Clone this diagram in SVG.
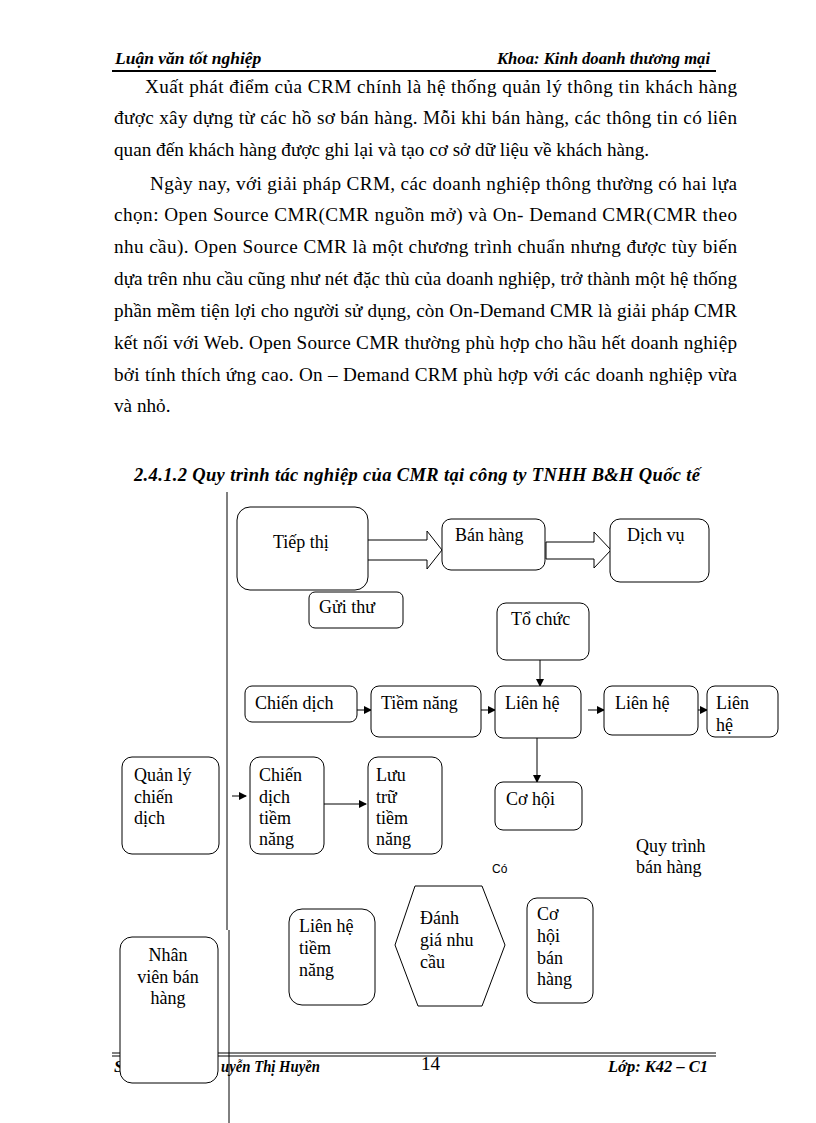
<svg xmlns="http://www.w3.org/2000/svg" width="816" height="1123" viewBox="0 0 816 1123">
<style>
.t{font-family:"Liberation Serif","Times New Roman",serif;font-size:19.2px;fill:#000}
.d{font-family:"Liberation Serif","Times New Roman",serif;font-size:18px;fill:#000}
.bi{font-family:"Liberation Serif","Times New Roman",serif;font-weight:bold;font-style:italic;fill:#000}
.box{fill:#fff;stroke:#000;stroke-width:1}
.ln{stroke:#000;stroke-width:1;fill:none}
</style>
<defs>
<marker id="ah" markerWidth="8" markerHeight="8" refX="7" refY="4" orient="auto" markerUnits="userSpaceOnUse">
<path d="M0,0 L8,4 L0,8 z" fill="#000"/>
</marker>
</defs>
<rect width="816" height="1123" fill="#fff"/>
<!-- header -->
<text class="bi" x="115" y="64" font-size="17.5">Luận văn tốt nghiệp</text>
<text class="bi" x="497" y="64" font-size="17.5" textLength="213" lengthAdjust="spacingAndGlyphs">Khoa: Kinh doanh thương mại</text>
<line x1="112" y1="71" x2="716" y2="71" stroke="#000" stroke-width="2"/>
<!-- body -->
<text class="t" x="145" y="93" textLength="592" lengthAdjust="spacing">Xuất phát điểm của CRM chính là hệ thống quản lý thông tin khách  hàng</text>
<text class="t" x="114" y="124" textLength="623" lengthAdjust="spacing">được xây dựng từ các hồ sơ bán hàng. Mỗi khi bán hàng, các thông tin có liên</text>
<text class="t" x="114" y="156">quan đến khách hàng được ghi lại và tạo cơ sở dữ liệu về khách hàng.</text>
<text class="t" x="150" y="190" textLength="587" lengthAdjust="spacing">Ngày nay, với giải pháp CRM, các doanh nghiệp thông thường có hai lựa</text>
<text class="t" x="114" y="221" textLength="623" lengthAdjust="spacing">chọn: Open Source CMR(CMR nguồn mở) và On- Demand CMR(CMR theo</text>
<text class="t" x="114" y="253" textLength="623" lengthAdjust="spacing">nhu cầu). Open Source CMR là một chương trình chuẩn nhưng được tùy biến</text>
<text class="t" x="114" y="285" textLength="623" lengthAdjust="spacing">dựa trên nhu cầu cũng như nét đặc thù của doanh nghiệp, trở thành một hệ thống</text>
<text class="t" x="114" y="317" textLength="623" lengthAdjust="spacing">phần mềm tiện lợi cho người sử dụng, còn On-Demand CMR là giải pháp CMR</text>
<text class="t" x="114" y="349" textLength="623" lengthAdjust="spacing">kết nối với Web. Open Source CMR thường phù hợp cho hầu hết doanh nghiệp</text>
<text class="t" x="114" y="381" textLength="623" lengthAdjust="spacing">bởi tính thích ứng cao. On – Demand CRM phù hợp với các doanh nghiệp vừa</text>
<text class="t" x="114" y="412">và nhỏ.</text>
<text class="bi" x="134" y="481" font-size="18.5" textLength="566" lengthAdjust="spacing">2.4.1.2 Quy trình tác nghiệp của CMR tại công ty TNHH B&amp;H Quốc tế</text>
<!-- footer -->
<line x1="112" y1="1053" x2="716" y2="1053" stroke="#000" stroke-width="1.2"/>
<line x1="112" y1="1056" x2="716" y2="1056" stroke="#000" stroke-width="1.2"/>
<text class="bi" x="114" y="1072" font-size="17">Sinh viên: Ng<tspan x="221" textLength="99" lengthAdjust="spacingAndGlyphs">uyễn Thị Huyền</tspan></text>
<text class="t" x="421" y="1070" font-size="17">14</text>
<text class="bi" x="608" y="1072" font-size="17" textLength="100" lengthAdjust="spacingAndGlyphs">Lớp: K42 – C1</text>
<!-- connectors -->
<g id="connectors">
<line class="ln" x1="227" y1="492" x2="227" y2="930"/>
<line class="ln" x1="229" y1="930" x2="229" y2="1123"/>
<path class="box" d="M368,540 L427,540 L427,531 L442,550 L427,569 L427,560 L368,560"/>
<path class="box" d="M546,542 L594,542 L594,532 L611,550 L594,568 L594,559 L546,559 Z"/>
<line class="ln" x1="540" y1="660" x2="540" y2="686" marker-end="url(#ah)"/>
<line class="ln" x1="357" y1="710" x2="371" y2="710" marker-end="url(#ah)"/>
<line class="ln" x1="481" y1="710" x2="495" y2="710" marker-end="url(#ah)"/>
<line class="ln" x1="588" y1="710" x2="604" y2="710" marker-end="url(#ah)"/>
<line class="ln" x1="698" y1="710" x2="707" y2="710" marker-end="url(#ah)"/>
<line class="ln" x1="537" y1="738" x2="537" y2="782" marker-end="url(#ah)"/>
<line class="ln" x1="232" y1="796" x2="246" y2="796" marker-end="url(#ah)"/>
<line class="ln" x1="324" y1="804" x2="366" y2="804" marker-end="url(#ah)"/>
</g>
<!-- nodes -->
<g id="tiepthi"><rect class="box" x="237" y="507" width="131" height="83" rx="13"/><text class="d" x="273" y="548">Tiếp thị</text></g>
<g id="guithu"><rect class="box" x="309" y="592" width="94" height="36" rx="6"/><text class="d" x="319" y="613">Gửi thư</text></g>
<g id="banhang"><rect class="box" x="442" y="519" width="103" height="51" rx="9"/><text class="d" x="455" y="541">Bán hàng</text></g>
<g id="dichvu"><rect class="box" x="610" y="519" width="99" height="63" rx="10"/><text class="d" x="627" y="541">Dịch vụ</text></g>
<g id="tochuc"><rect class="box" x="497" y="603" width="92" height="57" rx="9"/><text class="d" x="511" y="625">Tổ chức</text></g>
<g id="chiendich"><rect class="box" x="245" y="686" width="112" height="36" rx="7"/><text class="d" x="255" y="709">Chiến  dịch</text></g>
<g id="tiemnang"><rect class="box" x="371" y="686" width="110" height="51" rx="8"/><text class="d" x="381" y="709">Tiềm năng</text></g>
<g id="lienhe1"><rect class="box" x="495" y="686" width="86" height="52" rx="8"/><text class="d" x="505" y="709">Liên hệ</text></g>
<g id="lienhe2"><rect class="box" x="604" y="686" width="94" height="49" rx="8"/><text class="d" x="615" y="709">Liên hệ</text></g>
<g id="lienhe3"><rect class="box" x="707" y="686" width="71" height="51" rx="8"/><text class="d" x="716" y="709">Liên</text><text class="d" x="716" y="731">hệ</text></g>
<g id="cohoi"><rect class="box" x="495" y="782" width="87" height="48" rx="8"/><text class="d" x="506" y="805">Cơ hội</text></g>
<g id="quanly"><rect class="box" x="122" y="757" width="97" height="97" rx="10"/><text class="d" x="134" y="781">Quản lý</text><text class="d" x="134" y="803">chiến</text><text class="d" x="134" y="824">dịch</text></g>
<g id="chiendichtn"><rect class="box" x="250" y="757" width="74" height="97" rx="10"/><text class="d" x="259" y="781">Chiến</text><text class="d" x="259" y="803">dịch</text><text class="d" x="259" y="824">tiềm</text><text class="d" x="259" y="845">năng</text></g>
<g id="luutru"><rect class="box" x="368" y="757" width="74" height="97" rx="10"/><text class="d" x="376" y="781">Lưu</text><text class="d" x="376" y="803">trữ</text><text class="d" x="376" y="824">tiềm</text><text class="d" x="376" y="845">năng</text></g>
<g id="quytrinh"><text class="d" x="636" y="852">Quy trình</text><text class="d" x="636" y="873">bán hàng</text></g>
<g id="co"><text x="492" y="873" font-family="Liberation Sans, Arial, sans-serif" font-size="12">Có</text></g>
<g id="lienhetn"><rect class="box" x="289" y="909" width="86" height="96" rx="13"/><text class="d" x="299" y="932">Liên hệ</text><text class="d" x="299" y="954">tiềm</text><text class="d" x="299" y="976">năng</text></g>
<g id="danhgia"><path class="box" d="M395,945 L415,886 L482,886 L505,945 L482,1006 L418,1006 Z"/><text class="d" x="420" y="924">Đánh</text><text class="d" x="420" y="946">giá nhu</text><text class="d" x="420" y="968">cầu</text></g>
<g id="cohoibh"><rect class="box" x="527" y="898" width="66" height="105" rx="10"/><text class="d" x="537" y="920">Cơ</text><text class="d" x="537" y="942">hội</text><text class="d" x="537" y="964">bán</text><text class="d" x="537" y="985">hàng</text></g>
<g id="nhanvien"><rect class="box" x="120" y="937" width="98" height="146" rx="12"/><text class="d" x="168" y="961" text-anchor="middle">Nhân</text><text class="d" x="168" y="983" text-anchor="middle">viên bán</text><text class="d" x="168" y="1004" text-anchor="middle">hàng</text></g>
</svg>
